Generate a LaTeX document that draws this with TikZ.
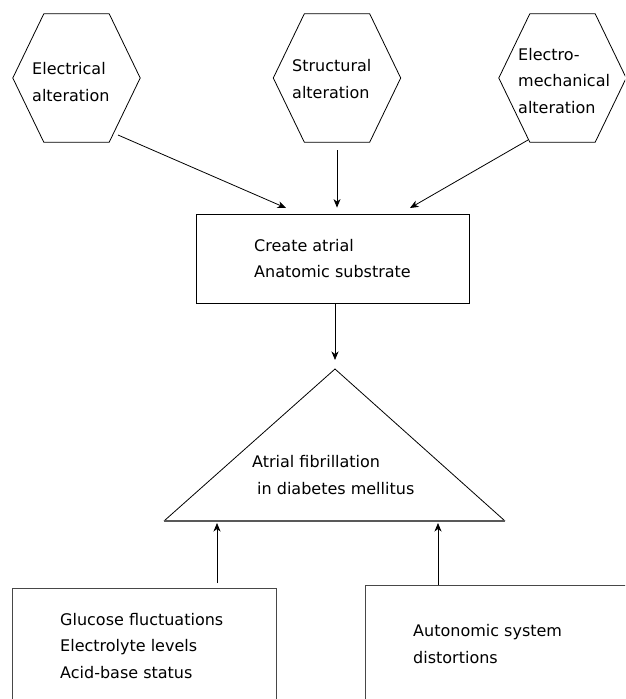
\documentclass[tikz,border=0pt]{standalone}
\usepackage{fontspec}
\setmainfont{DejaVu Sans}
\usetikzlibrary{arrows.meta,calc}
\newcommand\myhex[1]{%
  \draw[shp] (#1.west) -- ($(#1.north west)+(31,0)$) -- ($(#1.north east)+(-31,0)$)
    -- (#1.east) -- ($(#1.south east)+(-31,0)$) -- ($(#1.south west)+(31,0)$) -- cycle;}
\begin{document}
\begin{tikzpicture}[x=1pt,y=-1pt,
  txt/.style={inner sep=0pt,align=left,anchor=west,font=\fontsize{16}{26.5}\selectfont},
  shp/.style={draw=black,line width=0.8pt},
  hexbox/.style={inner sep=0pt,minimum width=127pt,minimum height=128pt},
  arr/.style={-{Stealth[length=8.5pt,width=7pt,inset=2.5pt]},line width=0.8pt},
  lowbox/.style={draw=black!72,line width=1.1pt,inner sep=0pt}
]
\useasboundingbox (0,0) rectangle (625,699);
\clip (0,0) rectangle (625,699);
\fill[white] (0,0) rectangle (625,699);

% hexagons
\node[hexbox] (h1) at (76.5,78) {};
\node[hexbox] (h2) at (337,78) {};
\node[hexbox] (h3) at (562.5,78) {};
\myhex{h1}\myhex{h2}\myhex{h3}
\node[txt] (t1) at (32,82) {Electrical\\alteration};
\node[txt] (t2) at (292,79) {Structural\\alteration};
\node[txt] (t3) at (518,81) {Electro-\\mechanical\\alteration};

% central box
\node[shp,inner sep=0pt,minimum width=273pt,minimum height=89pt,align=left,
      font=\fontsize{16}{26.5}\selectfont] (box) at (332.5,258.5)
      {Create atrial\\Anatomic substrate};

% arrows from hexagons
\coordinate (s1) at (118,135);
\coordinate (e1) at (286,208);
\coordinate (s3) at (528,140);
\coordinate (e3) at (410,208);
\draw[arr] (s1) -- (e1);
\draw[arr,shorten <=8pt,shorten >=6pt] (h2.south) -- (h2.south |- box.north);
\draw[arr] (s3) -- (e3);

% triangle
\coordinate (tA) at (335,369);
\coordinate (tL) at (164,521);
\coordinate (tR) at (505,521);
\draw[shp] (tL) -- (tA) -- (tR);
\draw[draw=black!65,line width=1.2pt] (tL) -- (tR);
\node[txt] (tri) at (252,475) {Atrial fibrillation\\\hspace{5pt}in diabetes mellitus};

\draw[arr,shorten >=9pt] (box.south -| tA) -- (tA);

% bottom boxes
\node[lowbox,minimum width=264pt,minimum height=130pt,anchor=north west] (b1) at (12,588) {};
\node[lowbox,minimum width=280pt,minimum height=130pt,anchor=north west] (b2) at (365,585) {};
\node[txt] (bt1) at (60,646) {Glucose fluctuations\\Electrolyte levels\\Acid-base status};
\node[txt] (bt2) at (413,644) {Autonomic system\\distortions};

\coordinate (u1) at (217,521);
\coordinate (u2) at (438,521);
\draw[arr,shorten <=5pt,shorten >=2pt] (b1.north -| u1) -- (u1);
\draw[arr,shorten >=2pt] (b2.north -| u2) -- (u2);
\end{tikzpicture}
\end{document}
